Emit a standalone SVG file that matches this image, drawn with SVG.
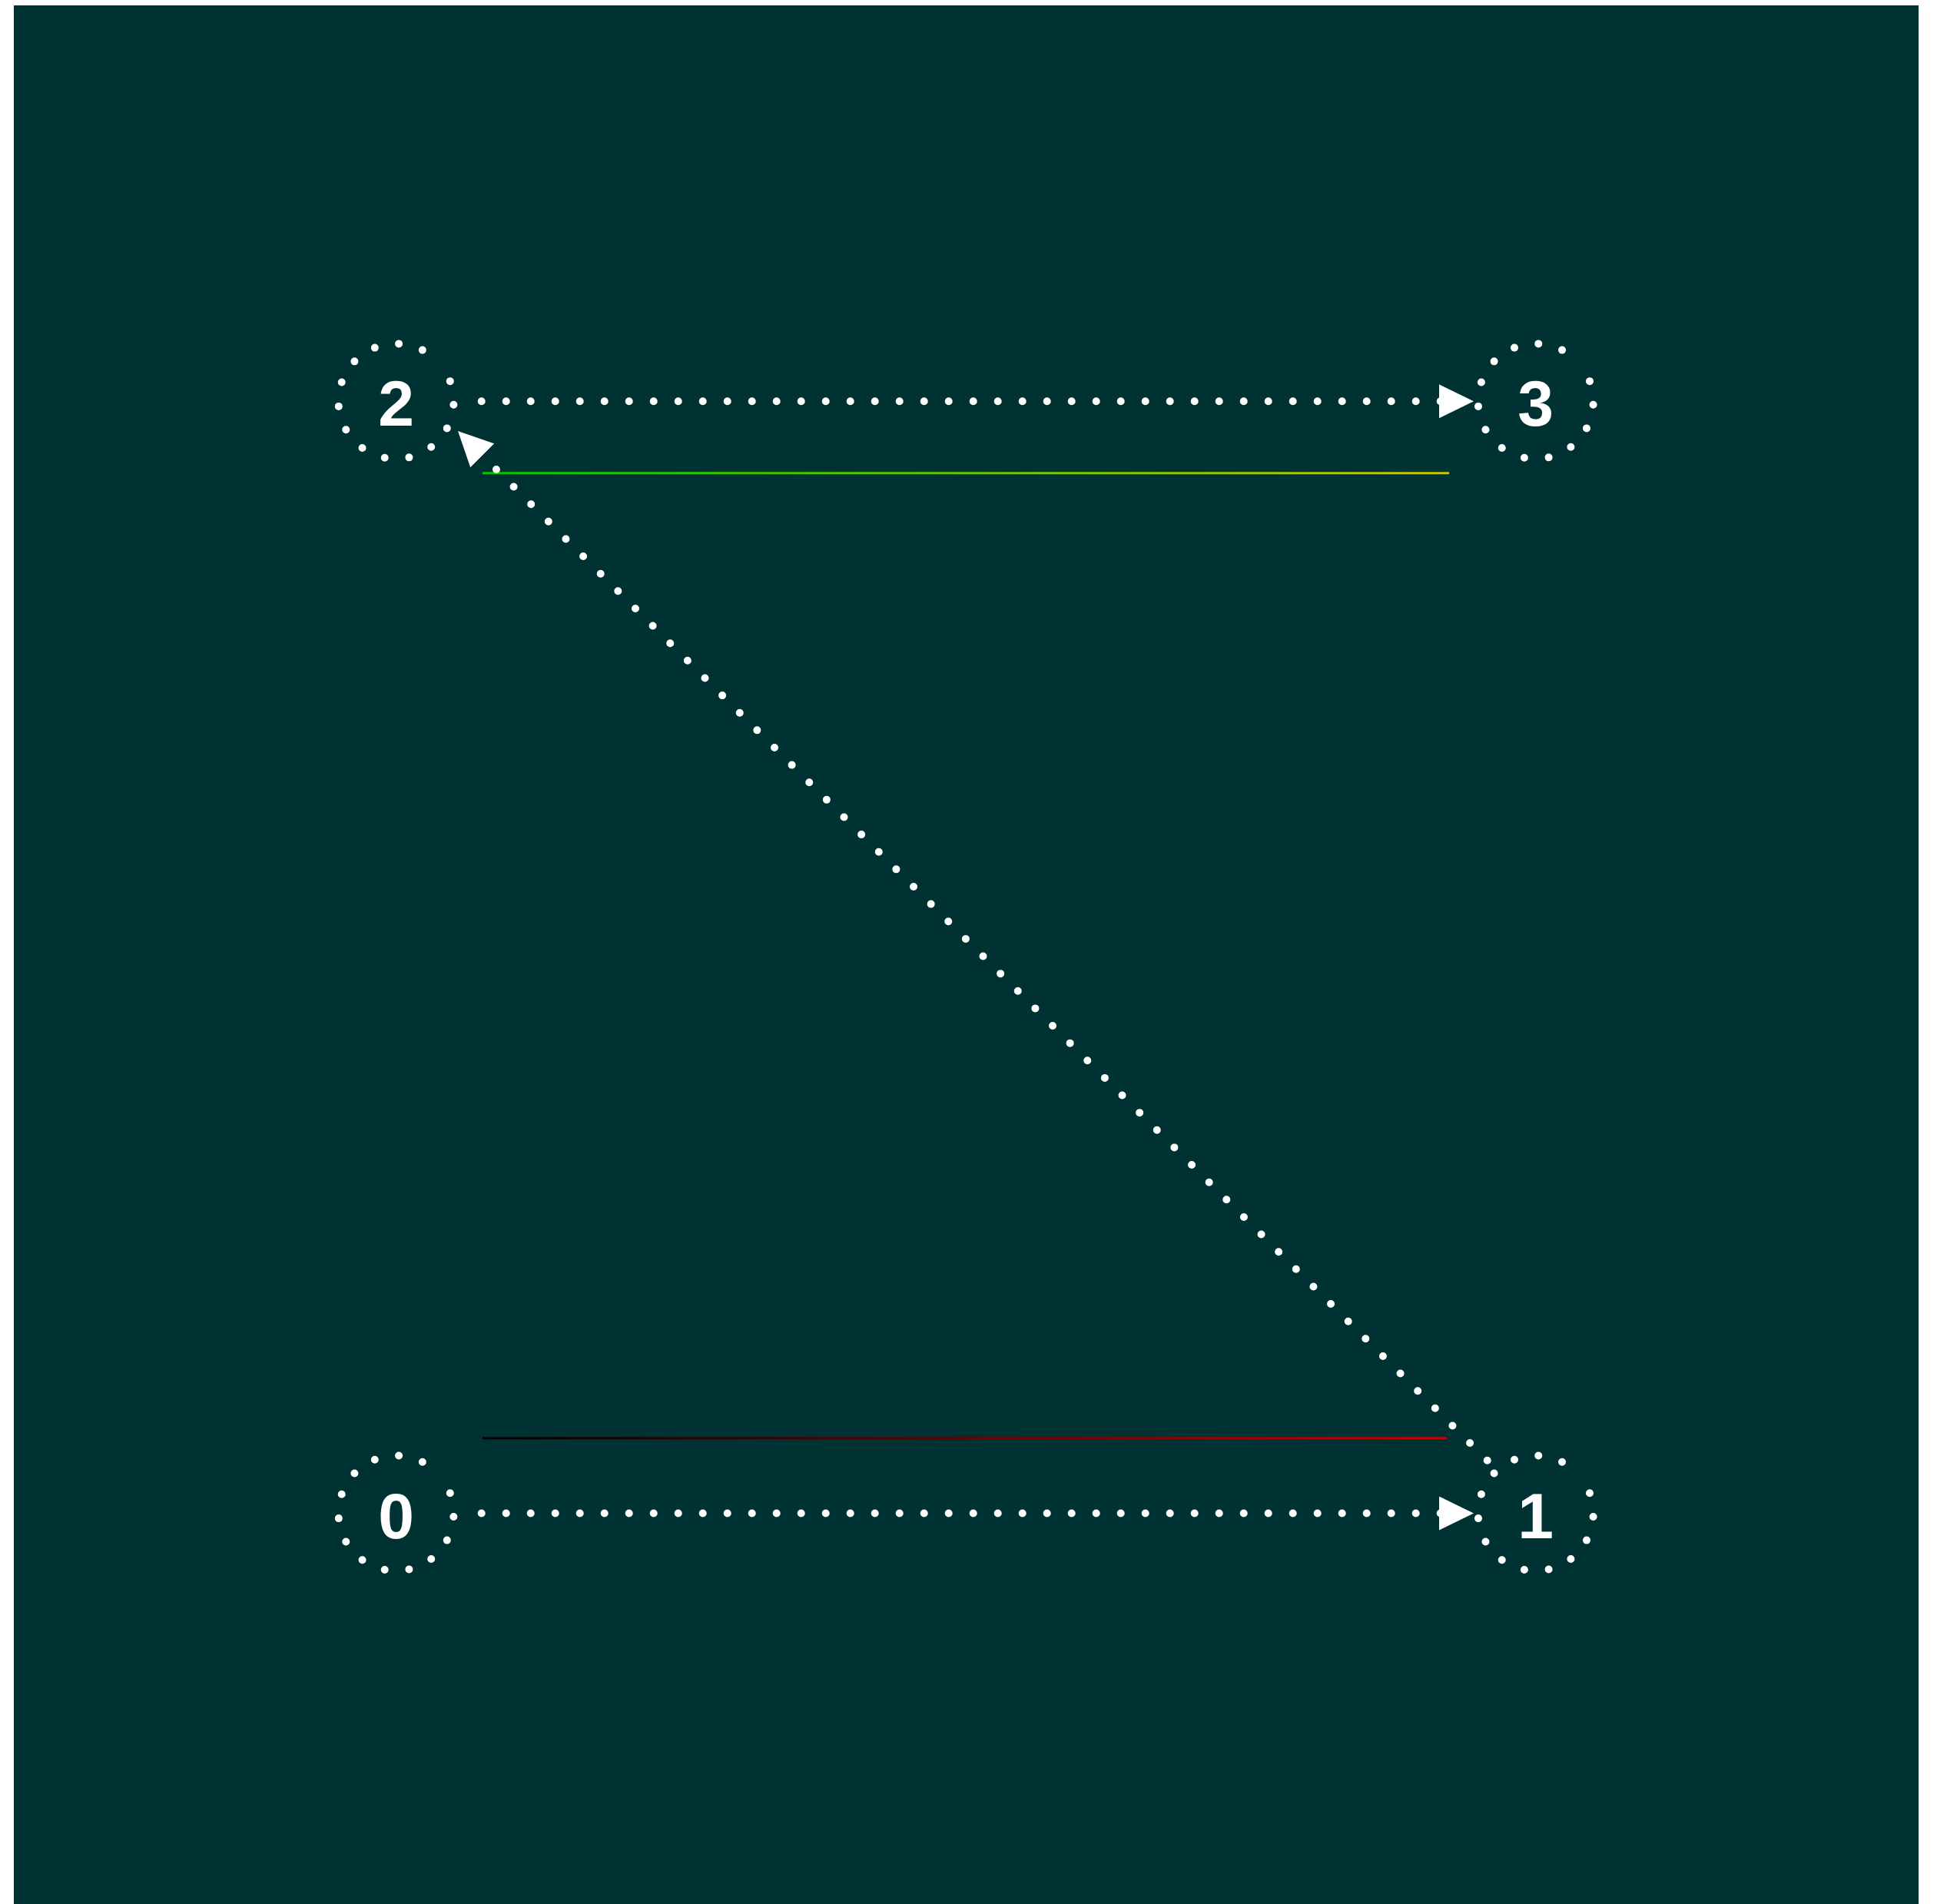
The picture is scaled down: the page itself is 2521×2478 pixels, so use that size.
<svg xmlns="http://www.w3.org/2000/svg" width="2521" height="2478" viewBox="0 0 2521 2478">
  <style>
    .ring { fill: none; stroke: #ffffff; stroke-width: 10; stroke-linecap: round; stroke-dasharray: 0 32 0 32 0 32 0 32 0 32 0 32 0 32 0 32 0 32 0 32 0 32 0 32 0 32 0 55.24; stroke-dashoffset: 27.48; }
    .label { fill: #ffffff; font-family: "Liberation Sans", Arial, sans-serif; font-weight: bold; font-size: 84px; text-anchor: middle; }
    .edge { fill: none; stroke: #ffffff; stroke-width: 10; stroke-linecap: round; stroke-dasharray: 0 32; }
    .band { fill: none; stroke-width: 3; }
  </style>
  <defs>
    <marker id="arrow" markerUnits="userSpaceOnUse" viewBox="0 0 45 44" markerWidth="45" markerHeight="44" refX="3" refY="22" orient="auto">
      <path d="M0,0 L45,22 L0,44 Z" fill="#ffffff"/>
    </marker>
    <linearGradient id="gradTop" gradientUnits="userSpaceOnUse" x1="628" y1="0" x2="1886" y2="0">
      <stop offset="0" stop-color="#00c800"/>
      <stop offset="1" stop-color="#c8c800"/>
    </linearGradient>
    <linearGradient id="gradBottom" gradientUnits="userSpaceOnUse" x1="628" y1="0" x2="1883" y2="0">
      <stop offset="0" stop-color="#000000"/>
      <stop offset="1" stop-color="#cc0000"/>
    </linearGradient>
  </defs>
  <rect x="18" y="7" width="2479" height="2471" fill="#013233"/>
  <g id="bands">
    <line class="band" x1="628" y1="615.7" x2="1886" y2="615.7" stroke="url(#gradTop)"/>
    <line class="band" x1="628" y1="1871.7" x2="1883" y2="1871.7" stroke="url(#gradBottom)"/>
  </g>
  <g id="connectors">
    <path class="edge" d="M626.7,522.3 L1876,522.3" marker-end="url(#arrow)"/>
    <path class="edge" d="M626.7,1969.5 L1876,1969.5" marker-end="url(#arrow)"/>
    <path class="edge" d="M1935.7,1900.7 L625.7,590.7" marker-end="url(#arrow)"/>
  </g>
  <g id="node-2">
    <circle class="ring" cx="515.5" cy="522.3" r="75"/>
    <text class="label" x="515.5" y="554.3">2</text>
  </g>
  <g id="node-3">
    <circle class="ring" cx="1998.7" cy="522.3" r="75"/>
    <text class="label" x="1998.7" y="554.3">3</text>
  </g>
  <g id="node-0">
    <circle class="ring" cx="515.5" cy="1969.5" r="75"/>
    <text class="label" x="515.5" y="2001.5">0</text>
  </g>
  <g id="node-1">
    <circle class="ring" cx="1998.7" cy="1969.5" r="75"/>
    <text class="label" x="1998.7" y="2001.5">1</text>
  </g>
</svg>
